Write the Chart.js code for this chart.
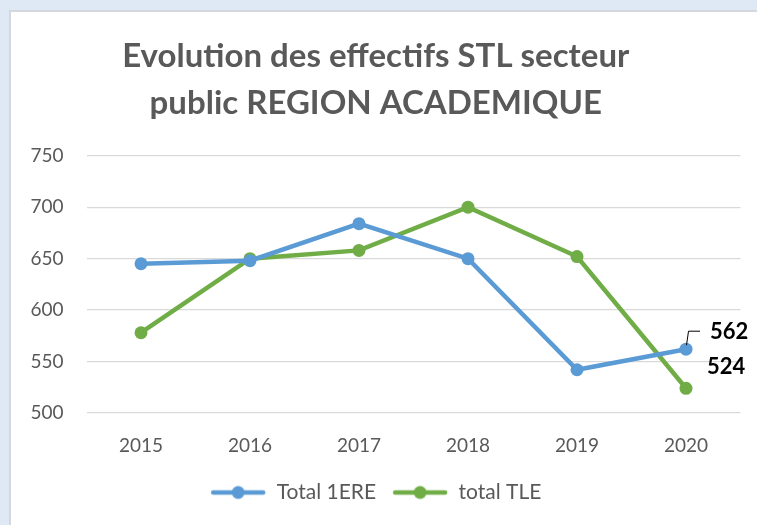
<!DOCTYPE html>
<html>
<head>
<meta charset="utf-8">
<script src="https://cdn.jsdelivr.net/npm/chart.js@4"></script>
<style>
html,body{margin:0;padding:0;background:#dee9f5;width:757px;height:525px;overflow:hidden;}
#wrap{position:absolute;left:9px;top:10px;width:746px;height:513px;background:#fff;border-left:2px solid #d4d7dc;border-top:2px solid #d4d7dc;}
canvas{display:block;}
</style>
</head>
<body>
<div id="wrap"><canvas id="c" width="746" height="513"></canvas></div>
<script>
const categories = ['2015','2016','2017','2018','2019','2020'];
const total1ERE = [645, 648, 684, 650, 542, 562];
const totalTLE = [578, 650, 658, 700, 652, 524];
const yTicks = [500, 550, 600, 650, 700, 750];
const titleLines = ['Evolution des effectifs STL secteur', 'public REGION ACADEMIQUE'];

const BLUE = '#5b9bd5', GREEN = '#70ad47', GREY = '#595959';

function markerImg(color){
  const c = document.createElement('canvas');
  c.width = 56; c.height = 16;
  const g = c.getContext('2d');
  g.strokeStyle = color; g.lineWidth = 4.5; g.lineCap = 'round';
  g.beginPath(); g.moveTo(3, 8); g.lineTo(53, 8); g.stroke();
  g.fillStyle = color; g.beginPath(); g.arc(28, 8, 6.5, 0, Math.PI*2); g.fill();
  return c;
}

const labelPlugin = {
  id: 'lastLabels',
  afterDatasetsDraw(chart){
    const ctx = chart.ctx;
    const x = chart.scales.x, y = chart.scales.y;
    const i = categories.length - 1;
    const px = x.getPixelForValue(i);
    const yb = y.getPixelForValue(total1ERE[i]);
    const yg = y.getPixelForValue(totalTLE[i]);
    ctx.save();
    ctx.strokeStyle = '#000'; ctx.lineWidth = 1;
    ctx.beginPath();
    ctx.moveTo(px + 0.5, yb - 4);
    ctx.lineTo(px + 2.5, yb - 18);
    ctx.lineTo(px + 14, yb - 18);
    ctx.stroke();
    ctx.fillStyle = '#000';
    ctx.font = 'bold 22px Lato';
    ctx.textAlign = 'left'; ctx.textBaseline = 'middle';
    ctx.fillText(String(total1ERE[i]), px + 24, yb - 17);
    ctx.fillText(String(totalTLE[i]), px + 21, yg - 21);
    ctx.restore();
  }
};

new Chart(document.getElementById('c'), {
  type: 'line',
  data: {
    labels: categories,
    datasets: [
      {label: 'Total 1ERE', data: total1ERE, borderColor: BLUE, backgroundColor: BLUE,
       borderWidth: 4.5, pointRadius: 6.5, pointBorderWidth: 0, pointStyle: 'circle', tension: 0},
      {label: 'total TLE', data: totalTLE, borderColor: GREEN, backgroundColor: GREEN,
       borderWidth: 4.5, pointRadius: 6.5, pointBorderWidth: 0, pointStyle: 'circle', tension: 0}
    ]
  },
  options: {
    responsive: false,
    animation: false,
    layout: {padding: {left: 0, right: 16.5, top: 0, bottom: 12}},
    plugins: {
      title: {display: true, text: titleLines, color: GREY,
        font: {family: 'Lato', size: 33, weight: 'bold', lineHeight: 1.42},
        padding: {top: 21, bottom: 29}},
      legend: {position: 'bottom',
        labels: {usePointStyle: true, pointStyleWidth: 56, boxHeight: 16, color: GREY,
          font: {family: 'Lato', size: 21}, padding: 16,
          generateLabels(chart){
            return chart.data.datasets.map((d, k) => ({
              text: d.label, fillStyle: d.borderColor, strokeStyle: d.borderColor,
              pointStyle: markerImg(d.borderColor), datasetIndex: k, lineWidth: 0, fontColor: GREY
            }));
          }}},
      tooltip: {enabled: false}
    },
    scales: {
      x: {
        offset: true,
        grid: {display: false, drawTicks: false, offset: true},
        border: {display: false},
        ticks: {color: GREY, font: {family: 'Lato', size: 19}, padding: 21},
        afterFit(s){ s.height = 53; }
      },
      y: {
        min: 500, max: 750,
        afterBuildTicks(s){ s.ticks = yTicks.map(v => ({value: v})); },
        grid: {color: '#d9d9d9', lineWidth: 1.3, drawTicks: false},
        border: {display: false},
        ticks: {color: GREY, font: {family: 'Lato', size: 19}, padding: 23},
        afterFit(s){ s.width = 75.5; }
      }
    }
  },
  plugins: [labelPlugin]
});
</script>
</body>
</html>
